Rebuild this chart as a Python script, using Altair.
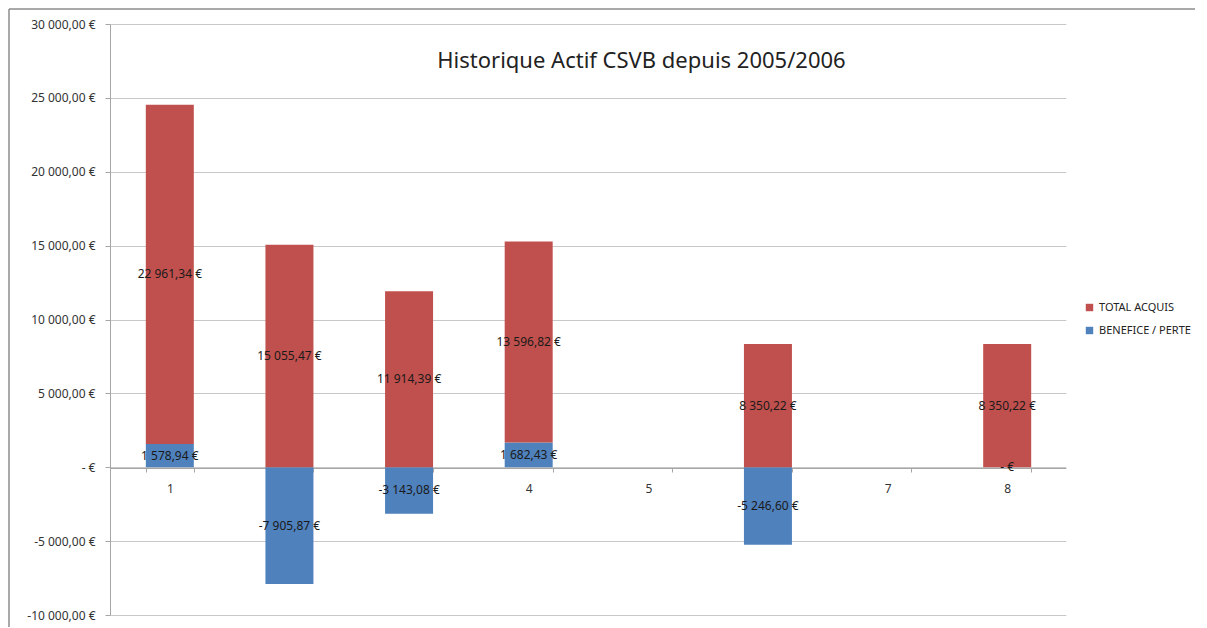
import altair as alt
import pandas as pd

categories = ["1", "2", "3", "4", "5", "6", "7", "8"]
series_names = ["TOTAL ACQUIS", "BENEFICE / PERTE"]
total_acquis = [22961.34, 15055.47, 11914.39, 13596.82, None, 8350.22, None, 8350.22]
benefice_perte = [1578.94, -7905.87, -3143.08, 1682.43, None, -5246.60, None, 0.0]
y_ticks = [-10000, -5000, 0, 5000, 10000, 15000, 20000, 25000, 30000]
colors = ["#C0504D", "#4F81BD"]
title_text = "Historique  Actif CSVB depuis 2005/2006"


def fr_euro(v):
    if v == 0:
        return "-  €"
    s = f"{abs(v):,.2f}".replace(",", " ").replace(".", ",")
    return ("-" if v < 0 else "") + s + " €"


rows = []
for c, t, b in zip(categories, total_acquis, benefice_perte):
    if t is None and b is None:
        continue
    pos = b if b > 0 else 0.0
    rows.append(dict(cat=c, series=series_names[1], y0=0.0, y1=b,
                     mid=b / 2, label=fr_euro(b)))
    rows.append(dict(cat=c, series=series_names[0], y0=pos, y1=pos + t,
                     mid=pos + t / 2, label=fr_euro(t)))
df = pd.DataFrame(rows)

W, H = 957, 591
PAD_L, PAD_T, PAD_R, PAD_B = 102, 16, 128, 12
FONT = "Noto Sans"

xscale = alt.Scale(domain=categories, paddingInner=0.6, paddingOuter=0.3)
xaxis = alt.Axis(title=None, labelAngle=0, offset=-147, tickBand="extent",
                 domainColor="#A6A6A6", tickColor="#A6A6A6", tickSize=4,
                 labelPadding=11, labelFont=FONT, labelFontSize=12,
                 labelColor="#333333", grid=False)
yscale = alt.Scale(domain=[-10000, 30000], nice=False, zero=False)
yaxis = alt.Axis(title=None, values=y_ticks, tickSize=5, tickColor="#A6A6A6",
                 domainColor="#A6A6A6", gridColor="#C8C8C8", grid=True,
                 labelPadding=10, labelFont=FONT, labelFontSize=12,
                 labelColor="#333333",
                 labelExpr="datum.value == 0 ? '-  €' : (datum.value < 0 ? '-' : '') + replace(replace(format(abs(datum.value), ',.2f'), ',', ' '), '.', ',') + ' €'")

base = alt.Chart(df)

bars = base.mark_bar(size=48).encode(
    x=alt.X("cat:N", scale=xscale, axis=xaxis),
    y=alt.Y("y0:Q", scale=yscale, axis=yaxis),
    y2="y1:Q",
    color=alt.Color("series:N", scale=alt.Scale(domain=series_names, range=colors),
                    legend=alt.Legend(title=None, orient="none", legendX=W + 17, legendY=278,
                                      symbolType="square", symbolSize=55, symbolStrokeWidth=0,
                                      labelFont=FONT, labelFontSize=11,
                                      labelColor="#222222", rowPadding=11)),
)

labels = base.mark_text(font=FONT, fontSize=12, color="#1a1a1a").encode(
    x=alt.X("cat:N", scale=xscale, axis=xaxis),
    y=alt.Y("mid:Q", scale=yscale, axis=yaxis),
    text="label:N",
)

one = pd.DataFrame({"a": [0]})
frame_top = alt.Chart(one).mark_rule(color="#8C8C8C", strokeWidth=1.5).encode(
    x=alt.value(-PAD_L + 1), x2=alt.value(W + PAD_R), y=alt.value(-PAD_T + 1))
frame_left = alt.Chart(one).mark_rule(color="#8C8C8C", strokeWidth=1.5).encode(
    x=alt.value(-PAD_L + 1), y=alt.value(-PAD_T + 1), y2=alt.value(H + PAD_B))
# hide the stray right-edge border of the plot area (the reference has none)
right_cover = alt.Chart(one).mark_rule(color="white", strokeWidth=2.5).encode(
    x=alt.value(W + 0.6), y=alt.value(-2), y2=alt.value(H + 2))

chart = alt.layer(bars, labels, frame_top, frame_left, right_cover).properties(
    width=W, height=H,
    view=alt.ViewBackground(strokeWidth=0, strokeOpacity=0),
    title=alt.TitleParams(title_text, font=FONT, fontSize=22, fontWeight="normal",
                          color="#222222", anchor="middle", dx=53, dy=69),
    autosize=alt.AutoSizeParams(type="none"),
    padding={"left": PAD_L, "top": PAD_T, "right": PAD_R, "bottom": PAD_B},
).configure_view(stroke="transparent", strokeWidth=0).configure(background="white")

chart.save("out.html", embed_options={"renderer": "svg", "actions": False})
